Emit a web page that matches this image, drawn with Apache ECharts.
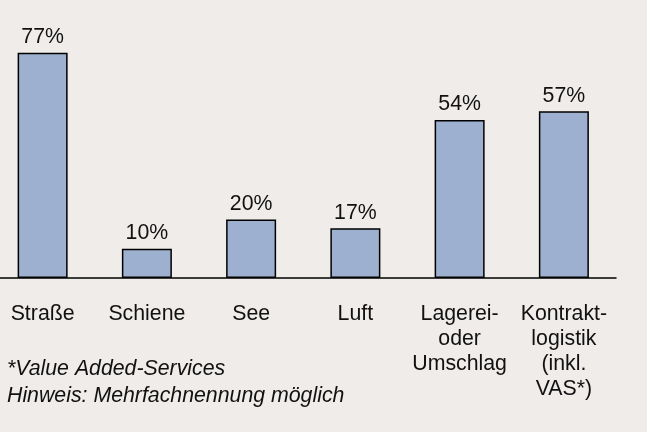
<!DOCTYPE html>
<html>
<head>
	<meta charset="UTF-8">
	<title></title>
	<script src="https://cdn.jsdelivr.net/npm/echarts@6/dist/echarts.min.js"></script>
	<style>
		html, body { margin: 0; padding: 0; background: #efecea; }
		#main { width: 647px; height: 432px; }
	</style>
</head>
<body>
	<div id="main"></div>
	<script type="text/javascript">
		var categories = ['Straße', 'Schiene', 'See', 'Luft', 'Lagerei-\noder\nUmschlag', 'Kontrakt-\nlogistik\n(inkl.\nVAS*)'];
		var values = [77, 10, 20, 17, 54, 57];
		var notes = ['*Value Added-Services', 'Hinweis: Mehrfachnennung möglich'];

		var font = '"Liberation Sans", Arial, sans-serif';
		var myChart = echarts.init(document.getElementById('main'));
		var option = {
			backgroundColor: '#efecea',
			animation: false,
			grid: {
				left: -9.5,
				right: 31,
				top: 44,
				bottom: 154,
				outerBoundsMode: 'none'
			},
			xAxis: {
				type: 'category',
				data: categories,
				axisLine: { lineStyle: { color: '#000', width: 1.5 } },
				axisTick: { show: false },
				axisLabel: {
					interval: 0,
					margin: 24,
					color: '#111',
					fontFamily: font,
					fontSize: 21.3,
					lineHeight: 25
				}
			},
			yAxis: {
				type: 'value',
				min: 0,
				max: 80,
				show: false,
				splitLine: { show: false }
			},
			series: [{
				type: 'bar',
				data: values,
				barWidth: 50,
				itemStyle: {
					color: '#9db0cf',
					borderColor: '#000',
					borderWidth: 1.5
				},
				label: {
					show: true,
					position: 'top',
					distance: 5,
					formatter: '{c}%',
					color: '#111',
					fontFamily: font,
					fontSize: 21.3
				}
			}],
			graphic: [{
				type: 'text',
				left: 7,
				top: 359,
				style: {
					text: notes[0],
					fill: '#111',
					font: 'italic 21.3px ' + font
				}
			}, {
				type: 'text',
				left: 7,
				top: 386,
				style: {
					text: notes[1],
					fill: '#111',
					font: 'italic 21.3px ' + font
				}
			}]
		};
		myChart.setOption(option);
	</script>
</body>
</html>
